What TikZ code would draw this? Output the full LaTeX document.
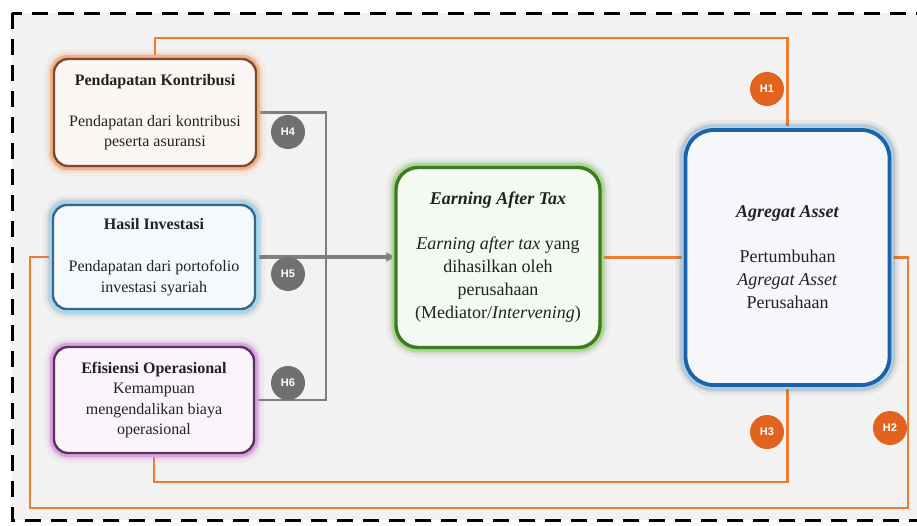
\documentclass[tikz,border=0pt]{standalone}
\usepackage{fontspec}
\setmainfont{Liberation Serif}
\newfontfamily\hfont{Liberation Sans}
\usetikzlibrary{arrows.meta}
\pgfdeclarelayer{back}
\pgfsetlayers{back,main}
\definecolor{bg}{HTML}{F2F2F2}
\definecolor{txt}{HTML}{222222}
\definecolor{orl}{HTML}{ED7D31}
\definecolor{orc}{HTML}{E2621F}
\definecolor{gry}{HTML}{7F7F7F}
\definecolor{gryc}{HTML}{707070}
\definecolor{pkdark}{HTML}{7A4A36}
\definecolor{pklight}{HTML}{F4B183}
\definecolor{pkfill}{HTML}{FAF6F4}
\definecolor{pkglow}{HTML}{E8A070}
\definecolor{hidark}{HTML}{3B6684}
\definecolor{hilight}{HTML}{9ED8F2}
\definecolor{hifill}{HTML}{F3F9FC}
\definecolor{higlow}{HTML}{7A8CA0}
\definecolor{eodark}{HTML}{5A3260}
\definecolor{eolight}{HTML}{DDA0E0}
\definecolor{eofill}{HTML}{FAF4FA}
\definecolor{eoglow}{HTML}{C080C8}
\definecolor{eatdark}{HTML}{3D7A22}
\definecolor{eatlight}{HTML}{A9D98A}
\definecolor{eatfill}{HTML}{F4F9F2}
\definecolor{eatglow}{HTML}{7A9A6A}
\definecolor{aadark}{HTML}{1C62A8}
\definecolor{aalight}{HTML}{A6D2F0}
\definecolor{aafill}{HTML}{F5F7FA}
\definecolor{aaglow}{HTML}{4A5E72}
\tikzset{
  card/.style n args={5}{rounded corners=#4, draw=#1, line width=2.4pt, fill=#3,
    preaction={draw=#5, line width=20pt, draw opacity=0.08},
    preaction={draw=#5, line width=14pt, draw opacity=0.12},
    preaction={draw=#5, line width=10.5pt, draw opacity=0.18},
    preaction={draw=#2, line width=8pt},
    align=center, inner sep=0pt, text=txt},
  smallfont/.style={font=\fontsize{16}{20.5}\selectfont},
  bigfont/.style={font=\fontsize{18}{23}\selectfont},
  oline/.style={draw=orl, line width=2.6pt},
  gline/.style={draw=gry, line width=2.6pt},
  garrow/.style={draw=gry, line width=3.6pt, -{Triangle[length=8pt,width=9pt]}},
  hcirc/.style={circle, fill=#1, minimum size=34pt, inner sep=0pt, text=white,
    font=\hfont\bfseries\fontsize{11}{11}\selectfont},
  border/.style={draw=black, line width=3pt, dash pattern=on 16pt off 10pt},
}
\begin{document}
\begin{tikzpicture}[x=1pt,y=-1pt]
\useasboundingbox (0,0) rectangle (917,525);
\begin{pgfonlayer}{back}
  \fill[white] (0,0) rectangle (917,525);
  \fill[bg] (12,13) rectangle (940,520);
\end{pgfonlayer}

% boxes
\node[card={pkdark}{pklight}{pkfill}{14pt}{pkglow}, smallfont, minimum width=202pt, minimum height=107pt]
  (pk) at (155,112.5) {\textbf{Pendapatan Kontribusi}\\[20pt]Pendapatan dari kontribusi\\peserta asuransi};
\node[card={hidark}{hilight}{hifill}{14pt}{higlow}, smallfont, minimum width=202pt, minimum height=104pt]
  (hi) at (154,257) {\textbf{Hasil Investasi}\\[22pt]Pendapatan dari portofolio\\investasi syariah};
\node[card={eodark}{eolight}{eofill}{14pt}{eoglow}, smallfont, minimum width=200pt, minimum height=106pt]
  (eo) at (154,400) {\textbf{Efisiensi Operasional}\\Kemampuan\\mengendalikan biaya\\operasional};
\node[card={eatdark}{eatlight}{eatfill}{22pt}{eatglow}, bigfont, line width=3.4pt, minimum width=204pt, minimum height=180pt]
  (eat) at (498,257.5) {\textbf{\textit{Earning After Tax}}\\[22pt]\textit{Earning after tax} yang\\dihasilkan oleh\\perusahaan\\(Mediator/\textit{Intervening})};
\node[card={aadark}{aalight}{aafill}{28pt}{aaglow}, bigfont, line width=3.8pt, minimum width=204pt, minimum height=255pt]
  (aa) at (787.5,257.5) {\textbf{\textit{Agregat Asset}}\\[22pt]Pertumbuhan\\\textit{Agregat Asset}\\Perusahaan};

% helper coordinates
\coordinate (topy) at (0,38);
\coordinate (boty3) at (0,482);
\coordinate (boty2) at (0,508);
\coordinate (rx) at (908,0);
\coordinate (lx) at (30,0);
\coordinate (gx) at (326,0);

\begin{pgfonlayer}{back}
  % orange hypothesis lines
  \draw[oline] (pk.north) -- (pk.north |- topy) -| (aa.north);
  \draw[oline] (aa.south) -- (aa.south |- boty3) -| (eo.south);
  \draw[oline] (aa.east) -- (aa.east -| rx) -- (rx |- boty2) -- (lx |- boty2) -- (lx |- hi.west) -- (hi.west);
  \draw[oline] (eat.east) -- (aa.west);
  % gray lines
  \draw[gline] (pk.east) -- (pk.east -| gx) -- (gx |- eo.east) -- (eo.east);
  \draw[garrow] (hi.east) -- (eat.west |- hi.east);
\end{pgfonlayer}

% dashed frame
\draw[border] (12,13) rectangle (940,520);

% hypothesis markers
\node[hcirc=orc] (h1) at (767,89) {H1};
\node[hcirc=orc] (h2) at (890,428) {H2};
\node[hcirc=orc] (h3) at (767,432) {H3};
\node[hcirc=gryc] (h4) at (288,132) {H4};
\node[hcirc=gryc] (h5) at (288,274) {H5};
\node[hcirc=gryc] (h6) at (288,383) {H6};
\end{tikzpicture}
\end{document}
